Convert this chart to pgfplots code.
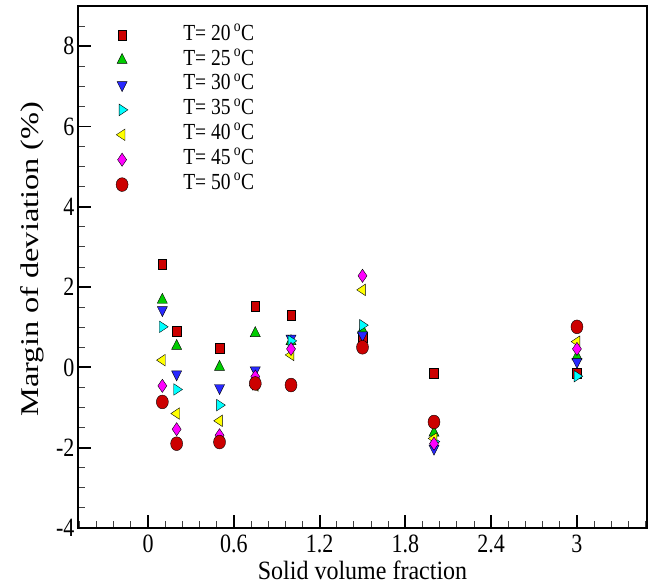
\documentclass[border=0pt]{standalone}
\usepackage{fontspec}
\setmainfont{Liberation Serif}
\usepackage{graphicx}
\usepackage{pgfplots}
\pgfplotsset{compat=1.18}
\definecolor{cred}{RGB}{204,0,0}
\definecolor{cgreen}{RGB}{0,204,0}
\definecolor{cblue}{RGB}{40,40,255}
\definecolor{ccyan}{RGB}{0,255,255}
\definecolor{cyellow}{RGB}{255,255,0}
\definecolor{cmagenta}{RGB}{255,0,255}
\newcommand{\vs}[1]{\scalebox{1}[1.2]{#1}}
\newcommand{\leg}[1]{\scalebox{1}[1.18]{T= #1\,\textsuperscript{o}C}}
\begin{document}
\begin{tikzpicture}
\begin{axis}[
  width=569bp, height=522bp, scale only axis,
  xmin=-0.49, xmax=3.49, ymin=-4, ymax=9,
  xtick={0,0.6,1.2,1.8,2.4,3}, ytick={-4,-2,...,8},
  minor xtick={-0.48,-0.36,...,3.48}, minor ytick={-3.5,-3,...,8.5},
  tick pos=left, tick align=inside,
  major tick length=13bp, minor tick length=7bp,
  every major tick/.style={line width=1.8bp,black},
  every minor tick/.style={line width=0.9bp,black!75},
  axis line style={line width=2.5bp},
  /pgf/number format/assume math mode=true,
  /pgf/number format/fixed,
  tick label style={font=\fontsize{22bp}{26bp}\selectfont},
  xticklabel={\vs{\pgfmathprintnumber{\tick}}},
  yticklabel={\vs{\pgfmathprintnumber{\tick}}},
  xticklabel style={anchor=base, yshift=-25bp, inner sep=0bp},
  yticklabel style={anchor=east, xshift=0bp},
  xlabel={\scalebox{1}[1.1]{Solid volume fraction}},
  ylabel={\scalebox{1.27}[1]{Margin of deviation (\%)}},
  xlabel style={font=\fontsize{24bp}{28bp}\selectfont, inner sep=0bp, at={(rel axis cs:0.5,0)}, anchor=base, yshift=-51bp},
  ylabel style={font=\fontsize{25.5bp}{30bp}\selectfont, at={(rel axis cs:0,0.5)}, anchor=center, yshift=46bp, xshift=8bp},
  legend style={draw=none, fill=none, inner sep=0pt, at={(rel axis cs:0,1)}, anchor=north west,
    xshift=37.7bp, yshift=-18bp, font=\fontsize{19.5bp}{23bp}\selectfont,
    row sep=2.9bp, nodes={inner sep=2bp, text height=14bp, text depth=4bp}},
  legend cell align=left,
  legend image code/.code={\draw[#1] plot coordinates {(0bp,0bp)}; \path (-6bp,0bp) (59bp,0bp);},
  every axis plot/.append style={only marks, mark options={draw=black, line width=0.6bp}},
]
\addplot[mark=square*, mark size=4.3bp, mark options={yscale=1.15, fill=cred}] coordinates {
(0.1,2.58) (0.2,0.91) (0.5,0.47) (0.75,1.53) (1.0,1.30) (1.5,0.75) (2.0,-0.15) (3.0,-0.15)};
\addlegendentry{\leg{20}}
\addplot[mark=triangle*, mark size=5.8bp, mark options={yscale=1.15, fill=cgreen}] coordinates {
(0.1,1.68) (0.2,0.53) (0.5,0.01) (0.75,0.85) (1.0,0.65) (1.5,0.93) (2.0,-1.63) (3.0,0.27)};
\addlegendentry{\leg{25}}
\addplot[mark=triangle*, mark size=5.8bp, mark options={yscale=1.15, rotate=180, fill=cblue}] coordinates {
(0.1,1.43) (0.2,-0.17) (0.5,-0.51) (0.75,-0.07) (1.0,0.72) (1.5,0.80) (2.0,-2.02) (3.0,0.14)};
\addlegendentry{\leg{30}}
\addplot[mark=triangle*, mark size=5.8bp, mark options={yscale=1.15, rotate=-90, fill=ccyan}] coordinates {
(0.1,1.01) (0.2,-0.55) (0.5,-0.94) (0.75,-0.42) (1.0,0.66) (1.5,1.05) (2.0,-1.85) (3.0,-0.22)};
\addlegendentry{\leg{35}}
\addplot[mark=triangle*, mark size=5.8bp, mark options={yscale=1.15, rotate=90, fill=cyellow}] coordinates {
(0.1,0.18) (0.2,-1.15) (0.5,-1.33) (0.75,-0.45) (1.0,0.31) (1.5,1.93) (2.0,-1.77) (3.0,0.64)};
\addlegendentry{\leg{40}}
\addplot[mark=diamond*, mark size=6.0bp, mark options={yscale=1.1, fill=cmagenta}] coordinates {
(0.1,-0.46) (0.2,-1.54) (0.5,-1.69) (0.75,-0.23) (1.0,0.46) (1.5,2.28) (2.0,-1.90) (3.0,0.46)};
\addlegendentry{\leg{45}}
\addplot[mark=*, mark size=6bp, mark options={yscale=1.15, fill=cred}] coordinates {
(0.1,-0.86) (0.2,-1.90) (0.5,-1.86) (0.75,-0.40) (1.0,-0.44) (1.5,0.50) (2.0,-1.36) (3.0,1.01)};
\addlegendentry{\leg{50}}
\end{axis}
\path ([xshift=-78bp,yshift=-58bp]current axis.south west) rectangle ([xshift=11bp,yshift=6bp]current axis.north east);
\end{tikzpicture}
\end{document}
